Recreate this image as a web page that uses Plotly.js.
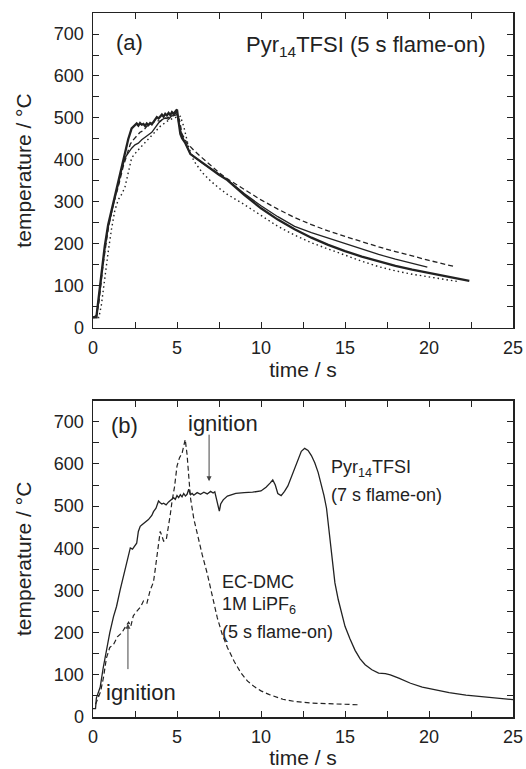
<!DOCTYPE html>
<html>
<head>
<meta charset="utf-8">
<script src="https://cdn.plot.ly/plotly-3.0.1.min.js"></script>
<style>html,body{margin:0;padding:0;background:#fff;}#chart{width:526px;height:769px;}</style>
</head>
<body>
<div id="chart"></div>
<script>
// ---------- Panel (a): Pyr14TFSI, 5 s flame-on (four runs) ----------
const a_thick_x = [0, 0.2, 0.3, 0.5, 0.7, 0.9, 1.1, 1.3, 1.5, 1.7, 1.9, 2.1, 2.3, 2.5, 2.6, 2.7, 2.8, 2.9, 3.0, 3.1, 3.2, 3.3, 3.4, 3.5, 3.6, 3.7, 3.8, 3.9, 4.0, 4.1, 4.2, 4.3, 4.4, 4.5, 4.6, 4.7, 4.8, 4.9, 5.0, 5.1, 5.2, 5.3, 5.5, 5.8, 6.5, 7, 7.5, 8, 9, 10, 11, 12, 13, 14, 15, 16, 17, 18, 19, 20, 21, 22, 22.4];
const a_thick_y = [25, 25, 60, 130, 195, 245, 280, 310, 345, 380, 415, 450, 475, 484, 487, 482, 488, 484, 486, 481, 487, 483, 488, 485, 490, 497, 502, 499, 505, 508, 503, 510, 506, 512, 507, 514, 510, 516, 520, 490, 462, 452, 440, 414, 393, 378, 365, 352, 317, 285, 258, 235, 215, 198, 183, 170, 159, 148, 139, 131, 123, 115, 112];

const a_thin_x = [0, 0.2, 0.3, 0.5, 0.7, 0.9, 1.1, 1.3, 1.5, 1.7, 1.9, 2.1, 2.3, 2.5, 2.7, 2.9, 3.1, 3.3, 3.5, 3.7, 3.9, 4.1, 4.3, 4.5, 4.7, 4.9, 5.0, 5.1, 5.3, 5.5, 5.8, 6.5, 7, 7.5, 8, 9, 10, 11, 12, 13, 14, 15, 16, 17, 18, 19, 19.9];
const a_thin_y = [25, 25, 55, 125, 190, 240, 275, 305, 340, 375, 405, 418, 428, 436, 440, 448, 455, 460, 466, 478, 488, 496, 500, 497, 506, 510, 515, 488, 458, 440, 414, 393, 379, 367, 353, 320, 291, 265, 242, 227, 214, 200, 187, 175, 164, 154, 145];

const a_dash_x = [0, 0.2, 0.35, 0.6, 0.9, 1.2, 1.5, 1.8, 2.0, 2.22, 2.4, 2.6, 2.8, 3.0, 3.2, 3.4, 3.6, 3.8, 4.0, 4.2, 4.4, 4.6, 4.8, 5.0, 5.15, 5.3, 5.6, 6, 6.5, 7, 7.5, 8, 9, 10, 11, 12, 13, 14, 15, 16, 17, 18, 19, 20, 21, 21.6];
const a_dash_y = [25, 30, 60, 150, 235, 295, 335, 385, 410, 438, 448, 458, 466, 470, 480, 486, 490, 494, 492, 498, 500, 503, 505, 508, 495, 462, 440, 423, 405, 387, 370, 355, 330, 305, 283, 263, 246, 231, 218, 205, 193, 182, 171, 161, 151, 146];

const a_dot_x = [0, 0.35, 0.5, 0.7, 0.9, 1.1, 1.3, 1.5, 1.7, 1.9, 2.1, 2.3, 2.6, 3.0, 3.4, 3.6, 4.0, 4.4, 4.8, 5.2, 5.4, 5.7, 6.0, 6.5, 7, 7.5, 8, 9, 10, 11, 12, 13, 14, 15, 16, 17, 18, 19, 20, 21, 21.8];
const a_dot_y = [25, 25, 55, 120, 180, 235, 280, 305, 318, 335, 370, 405, 420, 437, 455, 462, 480, 492, 500, 504, 480, 430, 398, 370, 350, 333, 318, 294, 268, 242, 221, 203, 188, 173, 159, 146, 136, 128, 121, 115, 110];

// ---------- Panel (b): Pyr14TFSI 7 s flame-on vs EC-DMC 1M LiPF6 5 s flame-on ----------
const b_pyr_x = [0, 0.15, 0.2, 0.3, 0.43, 0.6, 0.83, 1.0, 1.22, 1.4, 1.62, 1.8, 2.02, 2.15, 2.22, 2.35, 2.5, 2.6, 2.7, 2.81, 2.9, 3.1, 3.3, 3.5, 3.6, 3.75, 3.9, 4.0, 4.1, 4.2, 4.35, 4.5, 4.65, 4.8, 4.9, 5.0, 5.1, 5.2, 5.3, 5.4, 5.5, 5.6, 5.7, 5.8, 5.9, 6.0, 6.2, 6.4, 6.6, 6.8, 7.0, 7.15, 7.25, 7.35, 7.45, 7.52, 7.6, 7.75, 8.0, 8.5, 9.0, 9.5, 10.0, 10.3, 10.55, 10.7, 10.85, 11.0, 11.2, 11.4, 11.6, 11.8, 12.0, 12.2, 12.4, 12.6, 12.8, 13.0, 13.2, 13.4, 13.6, 13.75, 13.9, 14.05, 14.2, 14.4, 14.6, 14.8, 15.0, 15.3, 15.6, 15.9, 16.2, 16.6, 17.0, 17.4, 17.7, 18.2, 18.9, 19.6, 20.4, 21.2, 22.2, 23.2, 24.2, 25.0];
const b_pyr_y = [20, 20, 45, 55, 71, 115, 167, 200, 238, 262, 302, 330, 365, 390, 401, 398, 405, 412, 440, 452, 455, 462, 468, 478, 487, 495, 512, 508, 505, 507, 503, 510, 515, 520, 516, 525, 520, 527, 522, 530, 524, 528, 540, 527, 530, 526, 532, 528, 533, 529, 535, 531, 534, 515, 495, 488, 505, 515, 524, 530, 532, 533, 536, 545, 555, 562, 550, 530, 525, 535, 548, 568, 590, 612, 630, 637, 632, 620, 603, 580, 550, 525, 495, 440, 375, 318, 278, 243, 215, 185, 158, 138, 124, 112, 104, 103, 100, 92, 80, 71, 64, 58, 52, 48, 44, 41];

const b_ec_x = [0.15, 0.3, 0.45, 0.63, 0.8, 1.0, 1.22, 1.45, 1.72, 1.9, 2.12, 2.25, 2.4, 2.55, 2.71, 2.85, 3.0, 3.21, 3.4, 3.6, 3.7, 3.8, 3.9, 4.0, 4.1, 4.2, 4.36, 4.5, 4.6, 4.7, 4.85, 5.0, 5.15, 5.3, 5.4, 5.49, 5.6, 5.8, 6.0, 6.2, 6.5, 6.8, 7.1, 7.4, 7.7, 8.0, 8.4, 8.8, 9.2, 9.6, 10.0, 10.5, 11.3, 12.0, 13.0, 14.0, 15.0, 15.8];
const b_ec_y = [30, 45, 60, 95, 140, 165, 172, 190, 200, 212, 225, 215, 240, 248, 255, 262, 275, 270, 300, 320, 349, 380, 420, 440, 430, 417, 420, 450, 480, 510, 545, 595, 615, 625, 640, 658, 622, 520, 470, 435, 385, 340, 285, 235, 195, 165, 132, 105, 85, 72, 62, 53, 42, 37, 33, 31, 30, 29];

// ---------- Axis ticks ----------
const xTicks = [0, 5, 10, 15, 20, 25];
const yTicks = [0, 100, 200, 300, 400, 500, 600, 700];

const FONT = 'Liberation Sans, Arial, Helvetica, sans-serif';
const INK = '#222';

function line(x, y, xa, ya, width, dash) {
  return {x: x, y: y, xaxis: xa, yaxis: ya, type: 'scatter', mode: 'lines',
          line: {color: INK, width: width, dash: dash}, hoverinfo: 'skip', showlegend: false};
}

const data = [
  line(a_dot_x, a_dot_y, 'x', 'y', 1.4, '1.5px,3px'),
  line(a_dash_x, a_dash_y, 'x', 'y', 1.3, '5px,3px'),
  line(a_thin_x, a_thin_y, 'x', 'y', 1.3, 'solid'),
  line(a_thick_x, a_thick_y, 'x', 'y', 2.3, 'solid'),
  line(b_ec_x, b_ec_y, 'x2', 'y2', 1.2, '5px,3px'),
  line(b_pyr_x, b_pyr_y, 'x2', 'y2', 1.3, 'solid')
];

function xAxis(domainAnchor) {
  return {
    anchor: domainAnchor, range: [0, 25], tickvals: xTicks, ticktext: xTicks.map(String),
    ticks: 'inside', ticklen: 6, tickwidth: 1, tickcolor: INK,
    minor: {dtick: 2.5, tick0: 0, ticks: 'inside', ticklen: 6, tickwidth: 1, tickcolor: INK},
    showline: true, linewidth: 1.5, linecolor: INK, mirror: 'ticks',
    showgrid: false, zeroline: false, automargin: false,
    tickfont: {family: FONT, size: 18, color: INK}, ticklabelstandoff: 3,
    title: {text: 'time / s', font: {family: FONT, size: 21, color: INK}, standoff: 5}
  };
}
function yAxis(domain, anchor) {
  return {
    domain: domain, anchor: anchor, range: [0, 750], tickvals: yTicks, ticktext: yTicks.map(String),
    ticks: 'inside', ticklen: 6, tickwidth: 1, tickcolor: INK,
    minor: {dtick: 50, tick0: 0, ticks: 'inside', ticklen: 6, tickwidth: 1, tickcolor: INK},
    showline: true, linewidth: 1.5, linecolor: INK, mirror: 'ticks',
    showgrid: false, zeroline: false, automargin: false,
    tickfont: {family: FONT, size: 18, color: INK}, ticklabelstandoff: 4,
    title: {text: 'temperature / °C', font: {family: FONT, size: 21, color: INK}, standoff: 16}
  };
}

const annFont = {family: FONT, size: 18, color: INK};
const bigFont = {family: FONT, size: 22, color: INK};
const annotations = [
  {xref: 'x', yref: 'y', x: 2.19, y: 679, text: '(a)', showarrow: false, font: bigFont},
  {xref: 'x', yref: 'y', x: 16.25, y: 672, text: 'Pyr<sub>14</sub>TFSI (5 s flame-on)', showarrow: false, font: bigFont},
  {xref: 'x2', yref: 'y2', x: 1.89, y: 690, text: '(b)', showarrow: false, font: bigFont},
  {xref: 'x2', yref: 'y2', x: 7.75, y: 697, text: 'ignition', showarrow: false, font: bigFont},
  {xref: 'x2', yref: 'y2', x: 2.87, y: 59, text: 'ignition', showarrow: false, font: bigFont},
  {xref: 'x2', yref: 'y2', x: 14.06, y: 590, xanchor: 'left', text: 'Pyr<sub>14</sub>TFSI', showarrow: false, font: annFont},
  {xref: 'x2', yref: 'y2', x: 14.06, y: 526, xanchor: 'left', text: '(7 s flame-on)', showarrow: false, font: annFont},
  {xref: 'x2', yref: 'y2', x: 7.58, y: 321, xanchor: 'left', text: 'EC-DMC', showarrow: false, font: annFont},
  {xref: 'x2', yref: 'y2', x: 7.58, y: 264, xanchor: 'left', text: '1M LiPF<sub>6</sub>', showarrow: false, font: annFont},
  {xref: 'x2', yref: 'y2', x: 7.58, y: 202, xanchor: 'left', text: '(5 s flame-on)', showarrow: false, font: annFont},
  {xref: 'x2', yref: 'y2', x: 6.91, y: 559, axref: 'x2', ayref: 'y2', ax: 6.91, ay: 673, text: '',
   showarrow: true, arrowhead: 2, arrowsize: 1, arrowwidth: 1, arrowcolor: '#444'},
  {xref: 'x2', yref: 'y2', x: 2.08, y: 221, axref: 'x2', ayref: 'y2', ax: 2.08, ay: 110, text: '',
   showarrow: true, arrowhead: 2, arrowsize: 1, arrowwidth: 1, arrowcolor: '#444'}
];

const layout = {
  width: 526, height: 769,
  margin: {l: 93, r: 13, t: 13, b: 52},
  paper_bgcolor: '#fff', plot_bgcolor: '#fff',
  font: {family: FONT, color: INK},
  xaxis: xAxis('y'),
  yaxis: yAxis([0.5526, 1], 'x'),
  xaxis2: xAxis('y2'),
  yaxis2: yAxis([0, 0.4493], 'x2'),
  annotations: annotations,
  showlegend: false
};

Plotly.newPlot('chart', data, layout, {staticPlot: true, displayModeBar: false});
</script>
</body>
</html>
